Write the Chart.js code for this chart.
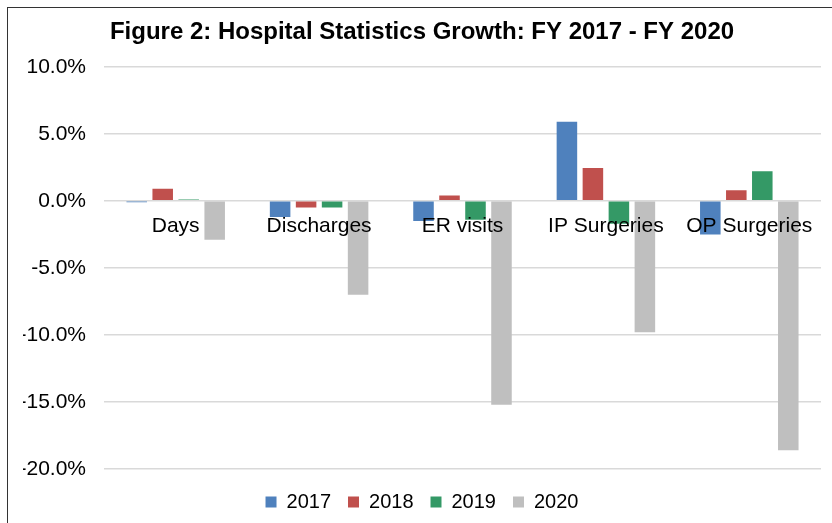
<!DOCTYPE html>
<html>
<head>
<meta charset="utf-8">
<script src="https://cdn.jsdelivr.net/npm/chart.js@4"></script>
<style>
  html, body { margin: 0; padding: 0; background: #fff; overflow: hidden; }
  #frame { position: absolute; left: 7px; top: 7px; width: 840px; height: 530px; border: 1px solid #333; }
  #wrap { position: absolute; left: 0; top: 0; width: 832px; height: 523px; }
</style>
</head>
<body>
<div id="frame"></div>
<div id="wrap"><canvas id="bar-chart"></canvas></div>
<script>
const categories = ['Days', 'Discharges', 'ER visits', 'IP Surgeries', 'OP Surgeries'];
const years = ['2017', '2018', '2019', '2020'];
const growth2017 = [-0.1, -1.2, -1.5, 5.9, -2.5];
const growth2018 = [0.9, -0.5, 0.4, 2.45, 0.8];
const growth2019 = [0.1, -0.5, -1.4, -1.7, 2.2];
const growth2020 = [-2.9, -7.0, -15.2, -9.8, -18.6];
const yTicks = [-20, -15, -10, -5, 0, 5, 10];

const colors = ['rgb(79, 129, 189)', 'rgb(192, 80, 77)', 'rgb(52, 153, 102)', 'rgb(191, 191, 191)'];
const series = [growth2017, growth2018, growth2019, growth2020];

Chart.defaults.font.family = "'Liberation Sans', Arial, sans-serif";
Chart.defaults.color = '#000';

new Chart(
  document.getElementById('bar-chart'),
  {
    type: 'bar',
    data: {
      labels: categories,
      datasets: years.map((y, i) => ({
        label: y,
        data: series[i],
        backgroundColor: colors[i],
        categoryPercentage: 0.725,
        barPercentage: 0.79,
      })),
    },
    options: {
      responsive: true,
      maintainAspectRatio: false,
      animation: false,
      layout: {
        padding: { top: 8, left: 23, right: 11, bottom: 1 },
      },
      plugins: {
        title: {
          display: true,
          text: 'Figure 2: Hospital Statistics Growth: FY 2017 - FY 2020',
          font: { size: 24, weight: 'bold' },
          color: '#000',
          padding: { top: 10, bottom: 20 },
        },
        legend: {
          position: 'bottom',
          // empty title only adds a little space above the legend row
          title: { display: true, text: '', font: { size: 1, lineHeight: 1 }, padding: { top: 5, bottom: 0 } },
          labels: {
            boxWidth: 11,
            boxHeight: 11,
            padding: 17,
            font: { size: 20 },
            color: '#000',
          },
        },
        tooltip: { enabled: false },
      },
      scales: {
        x: {
          position: { y: 0 },
          z: 1,
          grid: { display: false },
          border: { display: false },
          ticks: {
            z: 1,
            padding: 5,
            maxRotation: 0,
            autoSkip: false,
            font: { size: 21 },
            color: '#000',
          },
        },
        y: {
          min: yTicks[0],
          max: yTicks[yTicks.length - 1],
          afterBuildTicks: (axis) => { axis.ticks = yTicks.map((v) => ({ value: v })); },
          afterFit: (axis) => { axis.width = 81; },
          grid: { color: '#d9d9d9', lineWidth: 1.5, drawTicks: false },
          border: { display: false },
          ticks: {
            padding: 18,
            font: { size: 21 },
            color: '#000',
            callback: (v) => v.toFixed(1) + '%',
          },
        },
      },
    },
  }
);
</script>
</body>
</html>
